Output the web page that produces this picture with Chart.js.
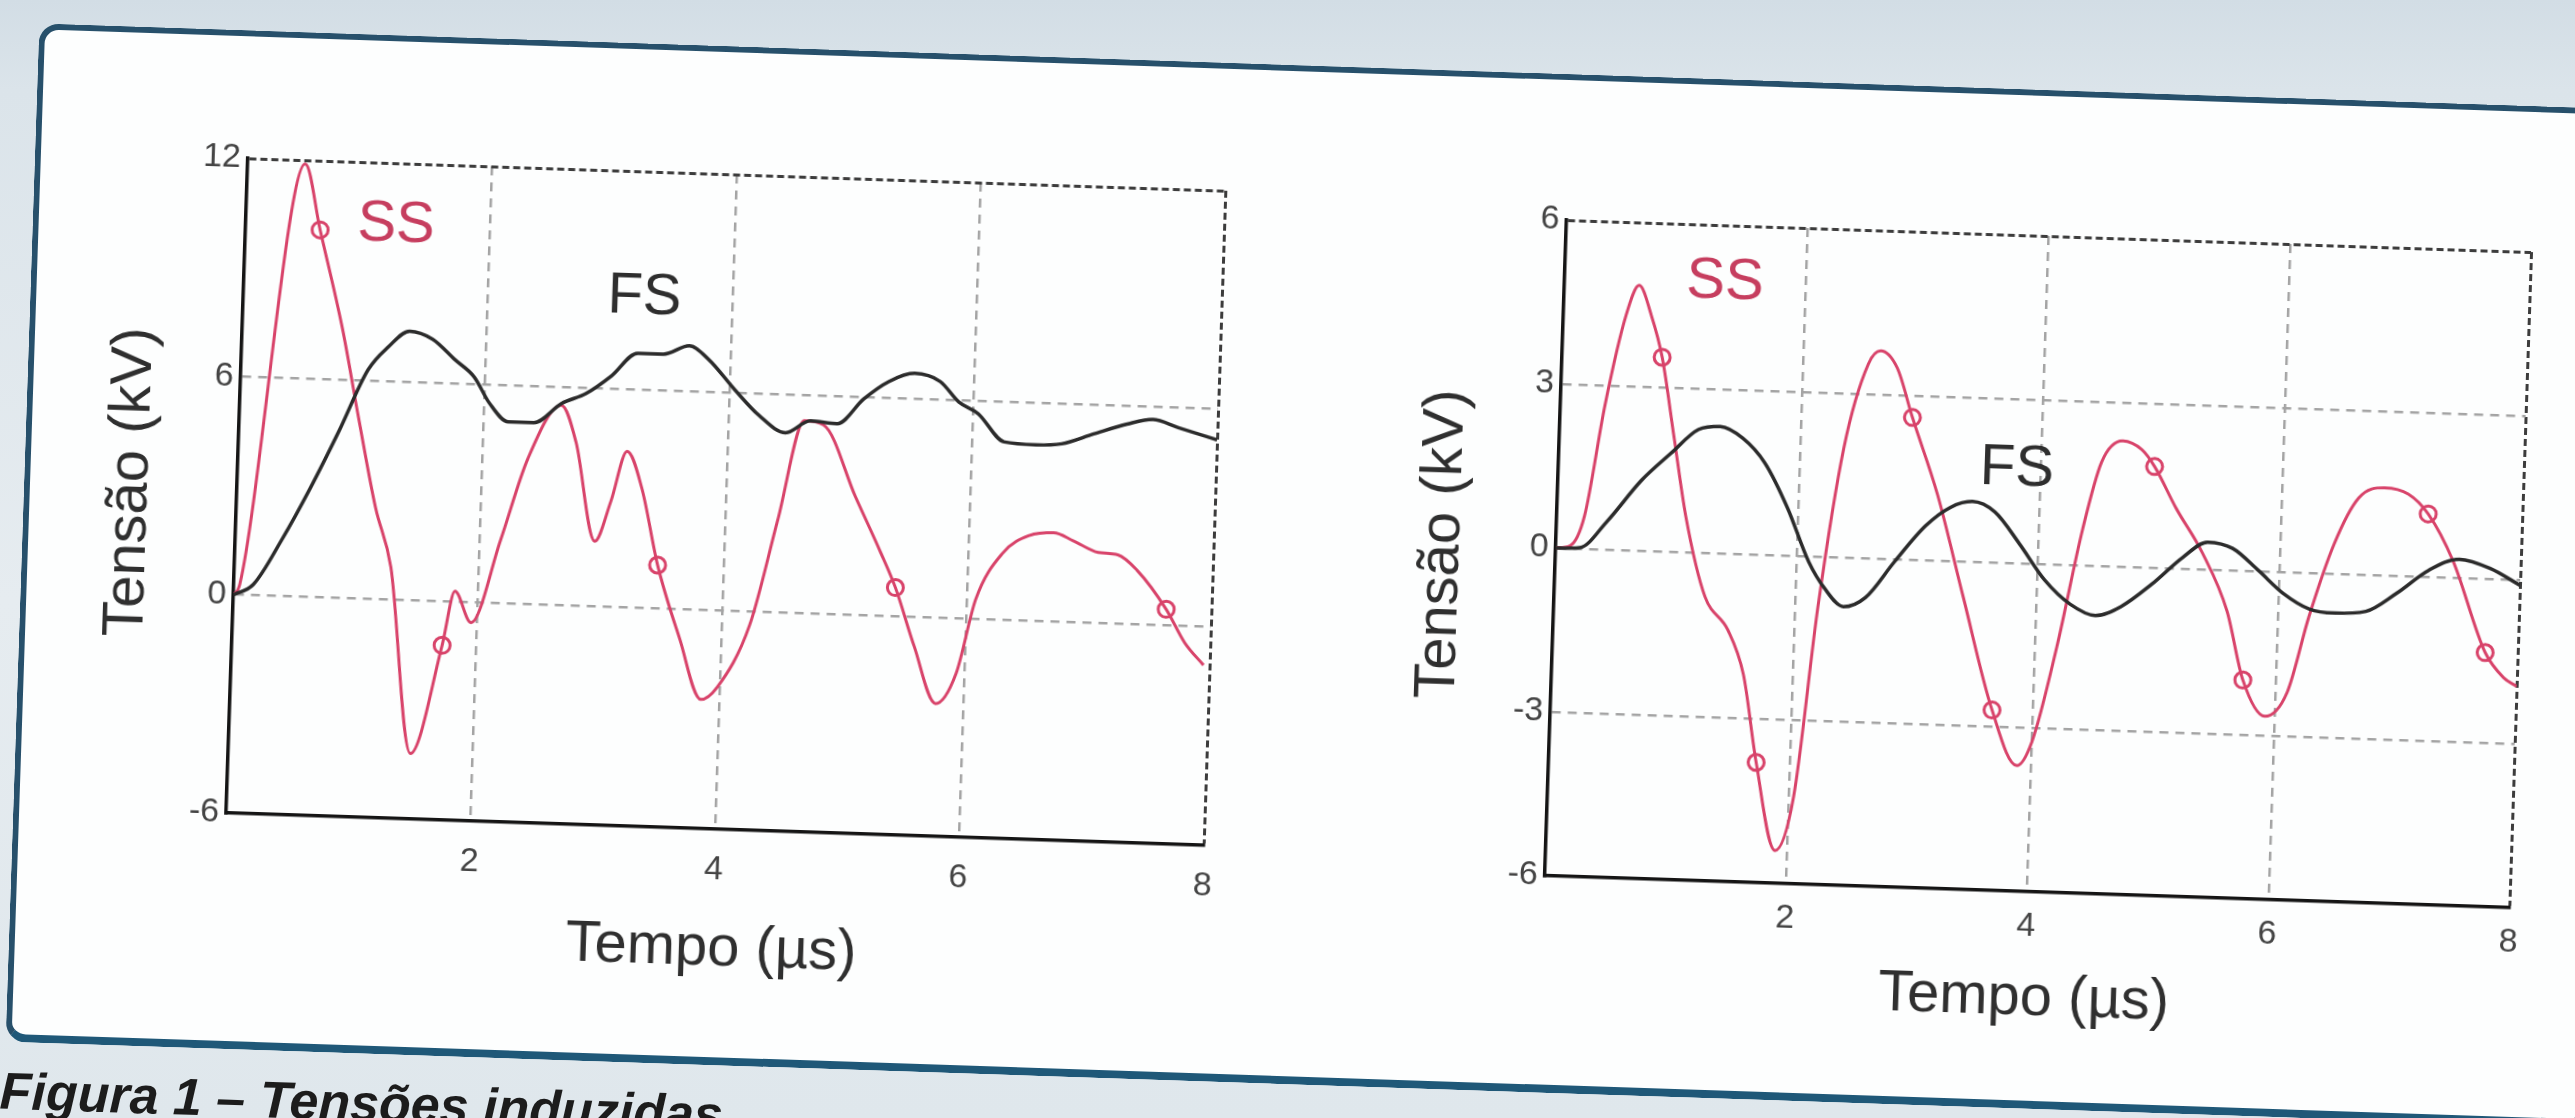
<!DOCTYPE html>
<html lang="pt">
<head>
<meta charset="utf-8">
<title>Figura 1 – Tensões induzidas</title>
<script src="https://cdn.jsdelivr.net/npm/chart.js@4.4.1/dist/chart.umd.min.js"></script>
<style>
  html, body {
    margin: 0;
    width: 2575px;
    height: 1118px;
    overflow: hidden;
    background: linear-gradient(180deg, #d2dde5 0px, #dbe4ea 90px, #e6ecf0 600px, #dfe7ec 1118px);
    font-family: "Liberation Sans", Arial, sans-serif;
  }
  #wrap {
    position: absolute;
    left: 0;
    top: 0;
    width: 2575px;
    height: 1118px;
    transform: rotate(1.9deg);
    transform-origin: 0 0;
  }
  .box {
    position: absolute;
    left: 40px;
    top: 22px;
    width: 2572px;
    height: 1005px;
    background: #fdfefe;
    border: 6px solid #27506b;
    border-bottom: 8px solid #1f5878;
    border-radius: 20px;
  }
  canvas {
    position: absolute;
  }
  #leftChart { left: 80px; top: 110px; }
  #rightChart { left: 1400px; top: 128px; }
  .caption {
    position: absolute;
    left: 36px;
    top: 1064px;
    font: italic bold 52px "Liberation Sans", Arial, sans-serif;
    line-height: 1;
    color: #1c1c1c;
    white-space: nowrap;
  }
</style>
</head>
<body>
<div id="wrap">
  <div class="box"></div>
  <canvas id="leftChart" width="1200" height="870"></canvas>
  <canvas id="rightChart" width="1175" height="870"></canvas>
  <div class="caption">Figura 1 – Tensões induzidas</div>
</div>

<script>
// ---- left chart ----
const leftSsX = [0, 0.05, 0.47, 0.61, 0.82, 0.98, 1.14, 1.28, 1.49, 1.72, 1.81, 1.95, 2.17, 2.37, 2.63, 2.76, 2.94, 3.06, 3.18, 3.31, 3.46, 3.66, 3.85, 3.98, 4.23, 4.43, 4.62, 4.78, 5.06, 5.28, 5.41, 5.58, 5.77, 5.93, 6.07, 6.28, 6.49, 6.69, 6.85, 7.06, 7.22, 7.38, 7.63, 7.79, 7.95];
const leftSsY = [0, 0.3, 11.9, 10.1, 7.4, 4.9, 2.5, 0.9, -4.2, -1.2, 0.3, -0.55, 1.75, 4.0, 5.5, 4.5, 1.8, 2.9, 4.3, 3.3, 1.2, -0.8, -2.45, -2.1, -0.35, 2.55, 5.3, 5.2, 3.25, 1.75, 0.8, -0.8, -2.35, -1.5, 0.55, 1.85, 2.35, 2.45, 2.25, 1.95, 1.9, 1.5, 0.45, -0.45, -1.05];
const leftSsMarks = [0.61, 1.72, 3.46, 5.41, 7.63];

const leftFsX = [0, 0.16, 0.38, 0.6, 0.82, 1.04, 1.2, 1.37, 1.56, 1.75, 1.91, 2.04, 2.2, 2.41, 2.63, 2.83, 3.03, 3.24, 3.45, 3.66, 3.82, 4.04, 4.25, 4.47, 4.67, 4.89, 5.1, 5.3, 5.51, 5.72, 5.88, 6.04, 6.26, 6.52, 6.73, 6.99, 7.26, 7.47, 7.68, 8.0];
const leftFsY = [0, 0.3, 1.55, 3.0, 4.6, 6.3, 6.95, 7.4, 7.2, 6.65, 6.2, 5.5, 5.0, 5.0, 5.55, 5.85, 6.35, 7.0, 7.0, 7.25, 6.9, 6.1, 5.4, 4.95, 5.3, 5.25, 5.95, 6.45, 6.7, 6.5, 5.95, 5.65, 4.9, 4.85, 4.9, 5.2, 5.5, 5.65, 5.45, 5.15];

const leftYTicks = [-6, 0, 6, 12];

// ---- right chart ----
const rightSsX = [0, 0.12, 0.23, 0.37, 0.52, 0.62, 0.73, 0.83, 0.95, 1.07, 1.25, 1.45, 1.59, 1.72, 1.9, 2.04, 2.19, 2.36, 2.54, 2.64, 2.78, 2.92, 3.15, 3.39, 3.66, 3.88, 4.0, 4.18, 4.36, 4.5, 4.67, 4.83, 4.94, 5.13, 5.36, 5.58, 5.73, 5.92, 6.1, 6.26, 6.45, 6.64, 6.85, 7.05, 7.22, 7.44, 7.73, 7.89, 8.0];
const rightSsY = [0, 0.05, 0.6, 2.65, 4.3, 4.85, 4.3, 3.55, 2.1, 0.65, -0.8, -1.4, -2.2, -3.8, -5.4, -4.4, -0.9, 2.0, 3.55, 3.8, 3.5, 2.6, 1.2, -0.65, -2.7, -3.7, -3.25, -1.5, 0.65, 1.9, 2.3, 2.15, 1.85, 1.1, 0.3, -0.75, -2.0, -2.65, -2.2, -0.8, 0.55, 1.4, 1.6, 1.5, 1.15, 0.3, -1.35, -1.8, -1.95];
const rightSsMarks = [0.83, 1.72, 2.92, 3.66, 4.94, 5.73, 7.22, 7.73];

const rightFsX = [0, 0.2, 0.42, 0.69, 0.93, 1.15, 1.33, 1.52, 1.71, 1.91, 2.1, 2.24, 2.4, 2.58, 2.81, 3.06, 3.26, 3.44, 3.63, 3.84, 4.06, 4.28, 4.49, 4.7, 4.95, 5.2, 5.4, 5.61, 5.83, 6.04, 6.26, 6.47, 6.73, 6.98, 7.24, 7.49, 7.75, 8.0];
const rightFsY = [0, 0.02, 0.52, 1.28, 1.8, 2.25, 2.32, 2.12, 1.68, 0.87, -0.1, -0.58, -0.9, -0.72, -0.05, 0.63, 0.98, 1.1, 0.92, 0.36, -0.29, -0.72, -0.91, -0.73, -0.3, 0.21, 0.5, 0.4, 0.01, -0.39, -0.66, -0.72, -0.67, -0.32, 0.12, 0.34, 0.19, -0.1];

const rightYTicks = [-6, -3, 0, 3, 6];

const xTicks = [0, 2, 4, 6, 8];

// curve names, anchored in data units
const leftNames = [
  { text: "SS", x: 1.23, y: 10.3, color: "#c63e5f" },
  { text: "FS", x: 3.28, y: 8.55, color: "#2e2e2e" }
];
const rightNames = [
  { text: "SS", x: 1.33, y: 4.95, color: "#c63e5f" },
  { text: "FS", x: 3.8, y: 1.72, color: "#2e2e2e" }
];

const FONT = "'Liberation Sans', Arial, sans-serif";
const RED = "#d8436a";
const BLACK = "#2b2b2b";

const toPoints = (xs, ys) => xs.map((x, i) => ({ x: x, y: ys[i] }));

const curveNames = {
  id: "curveNames",
  afterDatasetsDraw(chart, args, opts) {
    const ctx = chart.ctx;
    ctx.save();
    ctx.font = "58px " + FONT;
    ctx.textAlign = "center";
    ctx.textBaseline = "middle";
    opts.items.forEach(item => {
      ctx.fillStyle = item.color;
      ctx.fillText(item.text, chart.scales.x.getPixelForValue(item.x), chart.scales.y.getPixelForValue(item.y));
    });
    ctx.restore();
  }
};

function makeChart(id, cfg) {
  const markIdx = cfg.marks.map(m => cfg.ssX.indexOf(m));
  const yMin = cfg.yTicks[0];
  const yMax = cfg.yTicks[cfg.yTicks.length - 1];

  return new Chart(document.getElementById(id), {
    type: "line",
    data: {
      datasets: [
        {
          label: "FS",
          data: toPoints(cfg.fsX, cfg.fsY),
          borderColor: BLACK,
          borderWidth: 3.5,
          pointRadius: 0,
          cubicInterpolationMode: "monotone"
        },
        {
          label: "SS",
          data: toPoints(cfg.ssX, cfg.ssY),
          borderColor: RED,
          borderWidth: 3,
          cubicInterpolationMode: "monotone",
          pointStyle: "circle",
          pointRadius: c => markIdx.includes(c.dataIndex) ? 8 : 0,
          pointBorderColor: RED,
          pointBorderWidth: 3,
          pointBackgroundColor: "rgba(255,255,255,0)"
        }
      ]
    },
    options: {
      responsive: false,
      animation: false,
      layout: { padding: { top: 40, right: cfg.padRight, left: 0, bottom: 0 } },
      plugins: {
        legend: { display: false },
        tooltip: { enabled: false },
        curveNames: { items: cfg.names }
      },
      scales: {
        x: {
          type: "linear",
          min: 0,
          max: 8,
          afterBuildTicks: s => { s.ticks = xTicks.map(v => ({ value: v })); },
          afterFit: s => { s.height = cfg.xAxisHeight; },
          ticks: {
            padding: cfg.xTickPad,
            color: "#444",
            font: { family: FONT, size: 34 },
            callback: v => v === 0 ? "" : String(v)
          },
          grid: {
            drawTicks: false,
            color: c => !c.tick ? "#888" : c.tick.value === 0 ? "rgba(0,0,0,0)" : c.tick.value === 8 ? "#3c3c3c" : "#a4a4a4",
            lineWidth: c => c.tick && c.tick.value === 8 ? 3 : 2.5
          },
          border: {
            display: true,
            color: "#151515",
            width: 3.5,
            dash: c => c.tick ? (c.tick.value === 8 ? [7, 4] : [9, 7]) : []
          },
          title: {
            display: true,
            text: "Tempo (µs)",
            color: "#2f2f2f",
            font: { family: FONT, size: 58, lineHeight: 1 },
            padding: { top: 0, bottom: cfg.xTitlePad }
          }
        },
        y: {
          min: yMin,
          max: yMax,
          afterBuildTicks: s => { s.ticks = cfg.yTicks.map(v => ({ value: v })); },
          afterFit: s => { s.width = 173; },
          ticks: {
            padding: 7,
            color: "#444",
            font: { family: FONT, size: 34 }
          },
          grid: {
            drawTicks: false,
            color: c => !c.tick ? "#888" : c.tick.value === yMin ? "rgba(0,0,0,0)" : c.tick.value === yMax ? "#3c3c3c" : "#a4a4a4",
            lineWidth: c => c.tick && c.tick.value === yMax ? 3 : 2.5
          },
          border: {
            display: true,
            color: "#151515",
            width: 3.5,
            dash: c => c.tick ? (c.tick.value === yMax ? [7, 4] : [9, 7]) : []
          },
          title: {
            display: true,
            text: "Tensão (kV)",
            color: "#2f2f2f",
            font: { family: FONT, size: 58, lineHeight: 1 },
            padding: { top: cfg.yTitlePad, bottom: 0 }
          }
        }
      }
    },
    plugins: [curveNames]
  });
}

makeChart("leftChart", {
  ssX: leftSsX, ssY: leftSsY, marks: leftSsMarks,
  fsX: leftFsX, fsY: leftFsY,
  yTicks: leftYTicks, names: leftNames,
  padRight: 49, xAxisHeight: 175, xTickPad: 20, xTitlePad: 26, yTitlePad: 38
});

makeChart("rightChart", {
  ssX: rightSsX, ssY: rightSsY, marks: rightSsMarks,
  fsX: rightFsX, fsY: rightFsY,
  yTicks: rightYTicks, names: rightNames,
  padRight: 37, xAxisHeight: 174, xTickPad: 14, xTitlePad: 38, yTitlePad: 31
});
</script>
</body>
</html>
